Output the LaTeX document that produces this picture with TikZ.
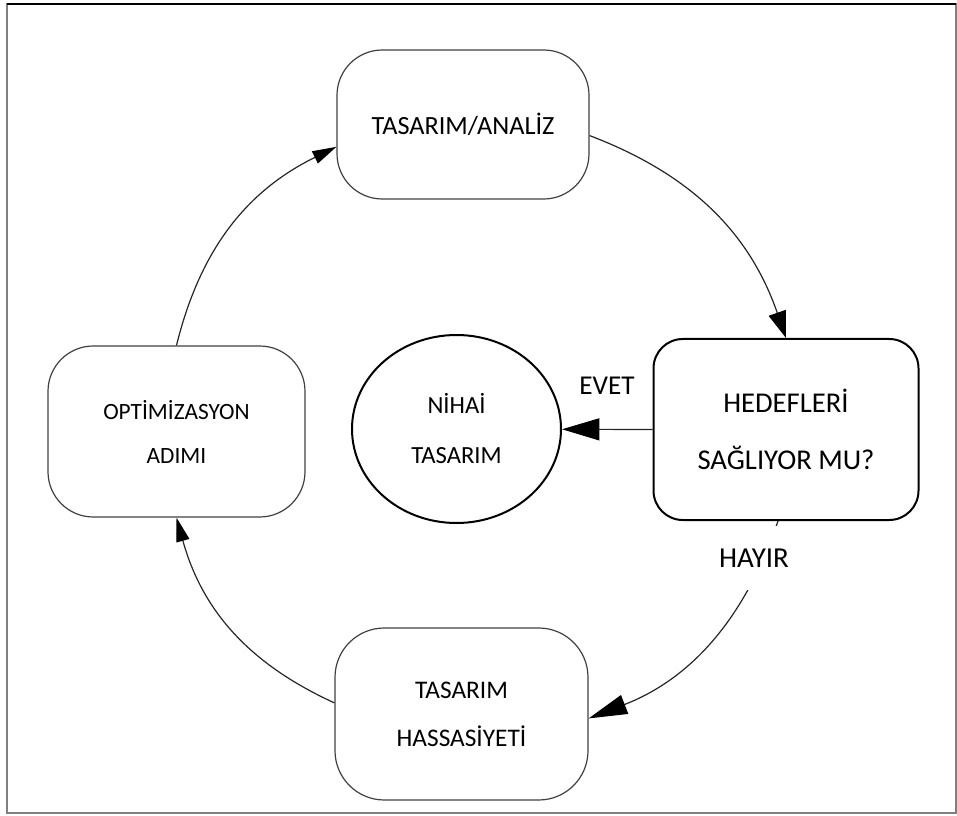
\documentclass[tikz,border=0pt]{standalone}
\usepackage{fontspec}
\setmainfont{Carlito}
\usetikzlibrary{shapes.geometric,arrows.meta}

\begin{document}
\begin{tikzpicture}[x=0.75pt,y=-0.75pt,
        kutu/.style={draw=black!75, line width=0.9pt, rounded corners=34pt, align=center, inner sep=0pt},
        karar/.style={draw=black, line width=1.5pt, rounded corners=22pt, align=center, inner sep=0pt},
        son/.style={draw=black, line width=1.5pt, ellipse, align=center, inner sep=0pt},
        ok/.style={draw=black!85, line width=0.9pt, -{Triangle[length=18pt,width=10pt,black]}},
        etiket/.style={inner sep=0pt}]
    \useasboundingbox (0,0) rectangle (957,816);
    % cerceve
    \draw[black!50, line width=0.8pt] (7,4) rectangle (956,813);
    \draw[line width=2pt] (7,4) -- (956,4);

    % kutular
    \node[kutu, minimum width=189pt, minimum height=111.75pt, font=\fontsize{19.7}{24}\selectfont] (analiz) at (463,124.5) {TASARIM/ANALİZ};
    \node[karar, minimum width=198.75pt, minimum height=135.75pt, font=\fontsize{21.5}{42.75}\selectfont] (hedef) at (786,429.5) {HEDEFLERİ\\SAĞLIYOR MU?};
    \node[son, minimum width=156.75pt, minimum height=141pt, font=\fontsize{18.5}{37.5}\selectfont] (nihai) at (456.5,429) {NİHAİ\\TASARIM};
    \node[kutu, minimum width=192.75pt, minimum height=128.25pt, font=\fontsize{17.5}{33}\selectfont] (optim) at (176.5,431.5) {OPTİMİZASYON\\ADIMI};
    \node[kutu, rounded corners=37pt, minimum width=189.75pt, minimum height=129pt, font=\fontsize{19}{36}\selectfont] (hassas) at (461.5,714) {TASARIM\\HASSASİYETİ};

    % oklar
    \draw[ok, -{Triangle[length=20pt,width=13.5pt,black]}] (analiz.-5) to[bend left=25] (hedef.north);
    \draw[ok, -{Triangle[length=28pt,width=16.5pt,black]}] (hedef.west) -- (nihai);
    \draw[ok, -{Triangle[length=29pt,width=15pt,black]}] (hedef.265) to[bend left=25] (hassas.-2);
    \draw[ok] (hassas.175) to[bend left=25] (optim.south);
    \draw[ok] (optim.north) to[bend left=25] (analiz.190);

    % etiketler
    \node[etiket, font=\fontsize{20.4}{24}\selectfont] (evet) at (607,386) {EVET};
    \node[etiket, fill=white, minimum width=94pt, minimum height=48pt, font=\fontsize{21.7}{26}\selectfont] (hayir) at (754,558) {HAYIR};
\end{tikzpicture}
\end{document}
